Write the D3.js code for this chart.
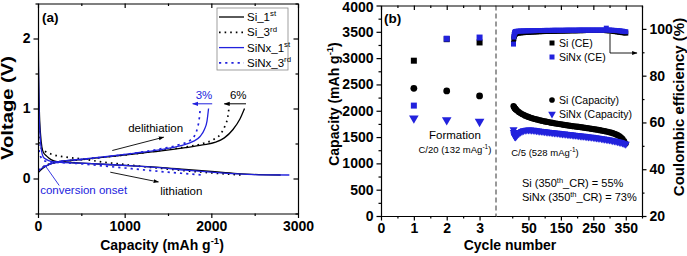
<!DOCTYPE html>
<html>
<head>
<meta charset="utf-8">
<script src="https://cdn.jsdelivr.net/npm/d3@7"></script>
<style>
  body { margin: 0; background: #fff; }
  svg { display: block; }
</style>
</head>
<body>
<div id="chart"></div>
<script>
const W = 687, H = 256;
const blue = "#2222dd";
const font = "'Liberation Sans', Arial, sans-serif";

// ---- panel (a): voltage profiles, [capacity (mAh/g), voltage (V)]
const si1stLith = [[0, 2.5], [6, 1.6], [15, 1.0], [30, 0.62], [45, 0.45], [60, 0.38], [100, 0.32], [150, 0.27], [220, 0.24], [500, 0.22], [800, 0.2], [1100, 0.18], [1400, 0.16], [1700, 0.13], [2000, 0.1], [2300, 0.07], [2550, 0.055], [2800, 0.05]];
const si1stDelith = [[0, 0.08], [60, 0.15], [130, 0.2], [220, 0.235], [500, 0.27], [800, 0.31], [1100, 0.35], [1400, 0.39], [1700, 0.44], [1900, 0.48], [2050, 0.52], [2150, 0.58], [2250, 0.7], [2330, 0.85], [2383, 1.0]];
const si3rdLith = [[0, 1.0], [8, 0.65], [20, 0.5], [40, 0.43], [80, 0.39], [150, 0.35], [300, 0.31], [500, 0.28], [750, 0.235], [1000, 0.2], [1250, 0.165], [1500, 0.135], [1750, 0.105], [2000, 0.08], [2200, 0.062], [2350, 0.05]];
const si3rdDelith = [[0, 0.12], [80, 0.18], [200, 0.23], [500, 0.27], [800, 0.31], [1100, 0.35], [1400, 0.4], [1700, 0.45], [1900, 0.5], [2030, 0.56], [2110, 0.64], [2160, 0.76], [2190, 0.88], [2203, 1.0]];
const sinx1stLith = [[0, 2.5], [5, 1.6], [12, 1.0], [25, 0.6], [40, 0.4], [60, 0.31], [100, 0.27], [150, 0.245], [220, 0.235], [500, 0.22], [800, 0.2], [1100, 0.18], [1400, 0.155], [1700, 0.12], [2000, 0.09], [2300, 0.065], [2600, 0.052], [2900, 0.05]];
const sinx1stDelith = [[0, 0.1], [60, 0.16], [130, 0.2], [220, 0.235], [500, 0.275], [800, 0.315], [1100, 0.36], [1400, 0.41], [1650, 0.47], [1790, 0.53], [1870, 0.6], [1920, 0.7], [1950, 0.82], [1968, 1.0]];
const sinx3rdLith = [[0, 0.85], [6, 0.55], [15, 0.38], [40, 0.29], [80, 0.25], [150, 0.235], [300, 0.225], [500, 0.21], [750, 0.18], [1000, 0.15], [1250, 0.12], [1500, 0.09], [1700, 0.07], [1900, 0.05]];
const sinx3rdDelith = [[0, 0.12], [80, 0.18], [200, 0.23], [500, 0.27], [800, 0.31], [1100, 0.36], [1400, 0.42], [1620, 0.48], [1750, 0.54], [1810, 0.62], [1840, 0.72], [1860, 0.85], [1872, 1.0]];

const capTicksA = [0, 1000, 2000, 3000];
const capMinorA = [500, 1500, 2500];
const voltTicksA = [0, 1, 2];
const voltMinorA = [-0.5, 0.5, 1.5, 2.5];

// ---- panel (b): cycling
const formationCycles = [1, 2, 3];
const siCEForm = [86.4, 95.6, 94.2];
const sinxCEForm = [67.2, 95.8, 96.3];
const siCapForm = [2427, 2376, 2281];
const sinxCapForm = [1857, 1825, 1793];

const longCycles = [4, 5, 6, 7, 8, 9, 10, 12,
  15, 20, 25, 30, 35, 40, 45, 50, 55, 60, 65, 70, 75, 80, 85, 90, 95, 100, 105, 110, 115, 120, 125, 130,
  135, 140, 145, 150, 155, 160, 165, 170, 175, 180, 185, 190, 195, 200, 205, 210, 215, 220, 225, 230,
  235, 240, 245, 250, 255, 260, 265, 270, 275, 280, 285, 290, 295, 300, 305, 310, 315, 320, 325, 330,
  335, 340, 345, 350];
const siCapLong = [2090, 2075, 2065, 2055, 2048, 2040, 2033, 2020,
  2003, 1978, 1957, 1938, 1922, 1907, 1894, 1882, 1871, 1861, 1852, 1843, 1835, 1827, 1819, 1812,
  1805, 1798, 1792, 1786, 1780, 1774, 1768, 1763, 1758, 1753, 1748, 1743, 1738, 1733, 1728, 1723,
  1718, 1713, 1709, 1705, 1701, 1697, 1693, 1689, 1685, 1680, 1676, 1671, 1667, 1662, 1657, 1652,
  1647, 1642, 1637, 1631, 1625, 1619, 1613, 1606, 1599, 1591, 1583, 1574, 1563, 1551, 1536, 1518,
  1495, 1464, 1424, 1378];
const sinxCapLong = [1640, 1590, 1555, 1528, 1512, 1506, 1508, 1520,
  1540, 1568, 1592, 1610, 1622, 1630, 1635, 1637, 1636, 1634, 1631, 1627, 1623, 1619, 1615, 1611,
  1607, 1603, 1599, 1596, 1592, 1589, 1585, 1581, 1578, 1574, 1571, 1567, 1563, 1560, 1556, 1553,
  1549, 1545, 1542, 1538, 1535, 1531, 1527, 1524, 1520, 1517, 1513, 1509, 1506, 1502, 1498, 1494,
  1490, 1486, 1482, 1478, 1473, 1468, 1463, 1458, 1452, 1446, 1440, 1434, 1428, 1421, 1414, 1406,
  1398, 1388, 1377, 1365];
const siCELong = [93.8, 95.8, 96.8, 97.3, 97.6, 97.8, 97.9, 98.0,
  98.1, 98.2, 98.3, 98.35, 98.4, 98.45, 98.5, 98.55, 98.6, 98.65, 98.7, 98.7, 98.75, 98.8, 98.8, 98.85,
  98.85, 98.9, 98.9, 98.95, 98.95, 99.0, 99.0, 99.0, 99.05, 99.05, 99.1, 99.1, 99.1, 99.1, 99.15, 99.15,
  99.15, 99.2, 99.2, 99.2, 99.2, 99.2, 99.25, 99.25, 99.25, 99.25, 99.3, 99.3, 99.3, 99.3, 99.3, 99.3,
  99.3, 99.3, 99.3, 99.3, 99.3, 99.3, 99.3, 99.25, 99.2, 99.2, 99.1, 99.0, 98.9, 98.8, 98.7, 98.6,
  98.5, 98.4, 98.3, 98.2];
const sinxCELong = [93.5, 96.5, 97.6, 98.2, 98.5, 98.7, 98.8, 98.9,
  99.0, 99.05, 99.1, 99.1, 99.15, 99.15, 99.2, 99.2, 99.2, 99.25, 99.25, 99.25, 99.3, 99.3, 99.3, 99.3,
  99.3, 99.35, 99.35, 99.35, 99.35, 99.35, 99.4, 99.4, 99.4, 99.4, 99.4, 99.4, 99.4, 99.4, 99.45, 99.45,
  99.45, 99.45, 99.45, 99.45, 99.45, 99.45, 99.5, 99.5, 99.5, 99.5, 99.5, 99.5, 99.5, 99.5, 99.5, 99.5,
  99.5, 99.5, 99.5, 99.5, 99.5, 99.5, 99.5, 100.3, 99.5, 99.5, 99.45, 99.4, 99.35, 99.3, 99.25, 99.2,
  99.1, 99.0, 98.9, 98.8];

const capTicksB = [0, 500, 1000, 1500, 2000, 2500, 3000, 3500, 4000];
const capMinorB = [250, 750, 1250, 1750, 2250, 2750, 3250, 3750];
const ceTicks = [20, 40, 60, 80, 100];
const ceMinor = [30, 50, 70, 90];
const formTicks = [0, 1, 2, 3];
const formMinor = [0.5, 1.5, 2.5];
const longTicks = [50, 150, 250, 350];
const longMinor = [0, 100, 200, 300, 400];

// ---------------------------------------------------------------
const svg = d3.select("#chart").append("svg")
  .attr("width", W).attr("height", H)
  .style("font-family", font);

const defs = svg.append("defs");
[["arrK", "#000"], ["arrB", blue]].forEach(([id, c]) => {
  defs.append("marker").attr("id", id)
    .attr("viewBox", "0 0 10 10").attr("refX", 9).attr("refY", 5)
    .attr("markerWidth", 6).attr("markerHeight", 6).attr("orient", "auto")
    .append("path").attr("d", "M0,1.5 L10,5 L0,8.5 Z").attr("fill", c);
});

function drawAxis(gen, scale, majors, minors, x, y, inward, labels) {
  const k = inward ? -1 : 1;
  const g = svg.append("g").attr("transform", `translate(${x},${y})`);
  g.append("g")
    .call(gen(scale).tickValues(minors).tickSizeInner(2.5 * k).tickSizeOuter(0).tickFormat(""))
    .call(s => s.select(".domain").remove());
  g.append("g")
    .call(gen(scale).tickValues(majors).tickSizeInner(4.5 * k).tickSizeOuter(0)
      .tickPadding(3).tickFormat(labels ? d3.format("d") : ""));
  g.selectAll("line, path").attr("stroke", "#000").attr("stroke-width", 1.2);
  g.selectAll("text").attr("font-family", font).attr("font-size", 14)
    .attr("font-weight", "bold").attr("fill", "#000");
  return g;
}

// text with superscript parts: parts = [[string, isSup], ...]
function richText(g, x, y, parts, size, color, anchor) {
  const t = g.append("text").attr("x", x).attr("y", y)
    .attr("font-size", size).attr("fill", color || "#000")
    .attr("text-anchor", anchor || "start");
  let up = false;
  const shift = size * 0.4;
  parts.forEach(([s, sup]) => {
    const ts = t.append("tspan").text(s);
    if (sup) {
      ts.attr("font-size", size * 0.68);
      if (!up) { ts.attr("dy", -shift); up = true; }
    } else if (up) { ts.attr("dy", shift); up = false; }
  });
  return t;
}

// =================== panel (a) ===================
const xA = d3.scaleLinear().domain([0, 3000]).range([38, 298]);
const yA = d3.scaleLinear().domain([-0.5, 2.5]).range([213.5, 3.5]);

svg.append("clipPath").attr("id", "clipA").append("rect")
  .attr("x", 38).attr("y", 3.5).attr("width", 260).attr("height", 210);

const lineA = d3.line().x(d => xA(d[0])).y(d => yA(d[1])).curve(d3.curveMonotoneX);
const gA = svg.append("g").attr("clip-path", "url(#clipA)");

const curves = [
  { data: [si1stLith, si1stDelith], color: "#000", dash: null },
  { data: [si3rdLith, si3rdDelith], color: "#000", dash: "1.6,4" },
  { data: [sinx1stLith, sinx1stDelith], color: blue, dash: null },
  { data: [sinx3rdLith, sinx3rdDelith], color: blue, dash: "2.2,4" }
];
curves.forEach(c => {
  c.data.forEach(seg => {
    gA.append("path").datum(seg).attr("d", lineA)
      .attr("fill", "none").attr("stroke", c.color)
      .attr("stroke-width", c.dash ? 1.7 : 1.3)
      .attr("stroke-dasharray", c.dash);
  });
});

drawAxis(d3.axisBottom, xA, capTicksA, capMinorA, 0, 213.5, false, true);
drawAxis(d3.axisTop, xA, capTicksA, capMinorA, 0, 3.5, true, false);
drawAxis(d3.axisLeft, yA, voltTicksA, voltMinorA, 38, 0, false, true);
drawAxis(d3.axisRight, yA, voltTicksA, voltMinorA, 298, 0, true, false);

// annotations (a)
svg.append("text").attr("x", 42).attr("y", 22).attr("font-size", 13.5)
  .attr("font-weight", "bold").text("(a)");

svg.append("line").attr("x1", xA(2400)).attr("x2", xA(2150)).attr("y1", yA(1.067)).attr("y2", yA(1.067))
  .attr("stroke", "#000").attr("stroke-width", 1).attr("marker-end", "url(#arrK)");
svg.append("text").attr("x", xA(2310)).attr("y", yA(1.13)).attr("text-anchor", "middle")
  .attr("font-size", 11.5).text("6%");
svg.append("line").attr("x1", xA(2010)).attr("x2", xA(1785)).attr("y1", yA(1.067)).attr("y2", yA(1.067))
  .attr("stroke", blue).attr("stroke-width", 1).attr("marker-end", "url(#arrB)");
svg.append("text").attr("x", xA(1915)).attr("y", yA(1.13)).attr("text-anchor", "middle")
  .attr("font-size", 11.5).attr("fill", blue).text("3%");

svg.append("text").attr("x", xA(1040)).attr("y", yA(0.66)).attr("font-size", 11.5).text("delithiation");
svg.append("line").attr("x1", xA(857)).attr("y1", yA(0.4)).attr("x2", xA(1450)).attr("y2", yA(0.59))
  .attr("stroke", "#000").attr("stroke-width", 0.9).attr("marker-end", "url(#arrK)");
svg.append("text").attr("x", xA(1410)).attr("y", yA(-0.23)).attr("font-size", 11.5).text("lithiation");
svg.append("line").attr("x1", xA(834)).attr("y1", yA(0.09)).attr("x2", xA(1390)).attr("y2", yA(-0.05))
  .attr("stroke", "#000").attr("stroke-width", 0.9).attr("marker-end", "url(#arrK)");
svg.append("text").attr("x", xA(25)).attr("y", yA(-0.22)).attr("font-size", 11.5).attr("fill", blue)
  .text("conversion onset");
svg.append("line").attr("x1", xA(245)).attr("y1", yA(-0.1)).attr("x2", xA(80)).attr("y2", yA(0.19))
  .attr("stroke", blue).attr("stroke-width", 0.9);

// legend (a)
const legA = svg.append("g");
legA.append("rect").attr("x", 217).attr("y", 8).attr("width", 71).attr("height", 62)
  .attr("fill", "#fff").attr("stroke", "#888").attr("stroke-width", 0.8);
const legItemsA = [
  { name: "Si_1", sup: "st", color: "#000", dash: null },
  { name: "Si_3", sup: "rd", color: "#000", dash: "1.6,4" },
  { name: "SiNx_1", sup: "st", color: blue, dash: null },
  { name: "SiNx_3", sup: "rd", color: blue, dash: "2.2,4" }
];
legItemsA.forEach((d, i) => {
  const y = 17 + i * 15.3;
  legA.append("line").attr("x1", 219).attr("x2", 244).attr("y1", y).attr("y2", y)
    .attr("stroke", d.color).attr("stroke-width", d.dash ? 1.7 : 1.3).attr("stroke-dasharray", d.dash);
  richText(legA, 247, y + 4, [[d.name, false], [d.sup, true]], 11.5, "#000");
});

// axis titles (a)
svg.append("text").attr("transform", "translate(13,108) rotate(-90)").attr("text-anchor", "middle")
  .attr("font-size", 16).attr("font-weight", "bold")
  .attr("textLength", 104).attr("lengthAdjust", "spacingAndGlyphs").text("Voltage (V)");
richText(svg, 162, 250, [["Capacity (mAh g", false], ["-1", true], [")", false]], 14, "#000", "middle")
  .attr("font-weight", "bold");

// =================== panel (b) ===================
const yB = d3.scaleLinear().domain([0, 4000]).range([216, 5.5]);
const yCE = d3.scaleLinear().domain([20, 110]).range([216, 5.5]);
const xB1 = d3.scaleLinear().domain([0, 3.5]).range([381, 496]);
const xB2 = d3.scaleLinear().domain([-50, 400]).range([496, 642]);

const sym = (type, size) => d3.symbol().type(type).size(size)();

const gB = svg.append("g");
function markers(xs, ys, xScale, yScale, type, size, color, rot) {
  gB.append("g").selectAll("path").data(xs).join("path")
    .attr("transform", (d, i) => `translate(${xScale(d)},${yScale(ys[i])})` + (rot ? " rotate(180)" : ""))
    .attr("d", sym(type, size)).attr("fill", color);
}

// long cycling
markers(longCycles, siCELong, xB2, yCE, d3.symbolSquare, 25, "#000");
markers(longCycles, sinxCELong, xB2, yCE, d3.symbolSquare, 25, blue);
markers(longCycles, siCapLong, xB2, yB, d3.symbolCircle, 30, "#000");
markers(longCycles, sinxCapLong, xB2, yB, d3.symbolTriangle, 28, blue, true);

// formation cycles
markers(formationCycles, siCEForm, xB1, yCE, d3.symbolSquare, 36, "#000");
markers(formationCycles, sinxCEForm, xB1, yCE, d3.symbolSquare, 36, blue);
markers(formationCycles, siCapForm, xB1, yB, d3.symbolCircle, 36, "#000");
markers(formationCycles, sinxCapForm, xB1, yB, d3.symbolTriangle, 40, blue, true);

// separator
svg.append("line").attr("x1", 496).attr("x2", 496).attr("y1", 5.5).attr("y2", 216)
  .attr("stroke", "#333").attr("stroke-width", 1).attr("stroke-dasharray", "5,3");

const leftB = drawAxis(d3.axisLeft, yB, capTicksB, capMinorB, 381, 0, false, true);
// keep the top label inside the picture
leftB.selectAll(".tick text").filter(d => d === 4000).attr("dy", "0.45em");
drawAxis(d3.axisRight, yCE, ceTicks, ceMinor, 642, 0, false, true);
drawAxis(d3.axisBottom, xB1, formTicks, formMinor, 0, 216, false, true);
drawAxis(d3.axisBottom, xB2, longTicks, longMinor, 0, 216, false, true);
drawAxis(d3.axisTop, xB1, formTicks, formMinor, 0, 5.5, true, false);
drawAxis(d3.axisTop, xB2, longTicks, longMinor, 0, 5.5, true, false);

svg.append("text").attr("x", 384).attr("y", 23).attr("font-size", 13.5)
  .attr("font-weight", "bold").text("(b)");

// legend (b)
const legB = svg.append("g");
const legItemsB = [
  { label: "Si (CE)", type: d3.symbolSquare, color: "#000", y: 43, rot: false },
  { label: "SiNx (CE)", type: d3.symbolSquare, color: blue, y: 57, rot: false },
  { label: "Si (Capacity)", type: d3.symbolCircle, color: "#000", y: 100, rot: false },
  { label: "SiNx (Capacity)", type: d3.symbolTriangle, color: blue, y: 114, rot: true }
];
legItemsB.forEach(d => {
  legB.append("path").attr("d", sym(d.type, 25)).attr("fill", d.color)
    .attr("transform", `translate(552,${d.y})` + (d.rot ? " rotate(180)" : ""));
  legB.append("text").attr("x", 559).attr("y", d.y + 4).attr("font-size", 10.5).text(d.label);
});
legB.append("path").attr("d", "M610,34 V53 H637").attr("fill", "none")
  .attr("stroke", "#000").attr("stroke-width", 0.9).attr("marker-end", "url(#arrK)");

// annotations (b)
svg.append("text").attr("x", xB1(2.25)).attr("y", 139).attr("text-anchor", "middle")
  .attr("font-size", 11.5).text("Formation");
richText(svg, xB1(2.25), 153, [["C/20 (132 mAg", false], ["-1", true], [")", false]], 9.5, "#000", "middle");
richText(svg, 545, 156, [["C/5 (528 mAg", false], ["-1", true], [")", false]], 9.5, "#000", "middle");
richText(svg, 522, 187, [["Si (350", false], ["th", true], ["_CR) = 55%", false]], 11, "#000");
richText(svg, 522, 201, [["SiNx (350", false], ["th", true], ["_CR) = 73%", false]], 11, "#000");

// axis titles (b)
richText(svg, 0, 0, [["Capacity (mAh g", false], ["-1", true], [")", false]], 14, "#000", "middle")
  .attr("font-weight", "bold").attr("transform", "translate(339,104) rotate(-90)");
svg.append("text").attr("transform", "translate(684,107) rotate(-90)").attr("text-anchor", "middle")
  .attr("font-size", 15).attr("font-weight", "bold").text("Coulombic efficiency (%)");
svg.append("text").attr("x", 510).attr("y", 250).attr("text-anchor", "middle")
  .attr("font-size", 14).attr("font-weight", "bold").text("Cycle number");
</script>
</body>
</html>
